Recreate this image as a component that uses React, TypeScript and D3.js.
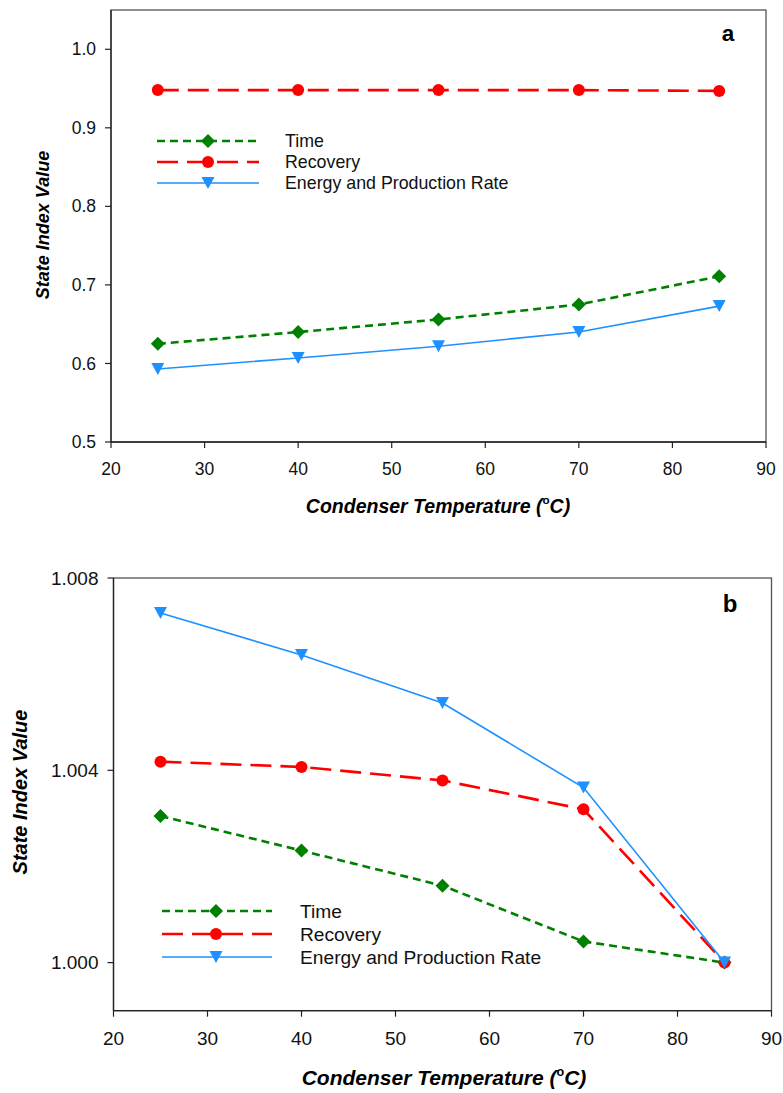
import React from "react";
import * as d3 from "d3";

const temps = [25, 40, 55, 70, 85];
const xTicks = [20, 30, 40, 50, 60, 70, 80, 90];

const timeA = [0.625, 0.64, 0.656, 0.675, 0.711];
const recoveryA = [0.948, 0.948, 0.948, 0.948, 0.947];
const energyA = [0.593, 0.607, 0.622, 0.64, 0.673];
const yTicksA = [0.5, 0.6, 0.7, 0.8, 0.9, 1.0];

const timeB = [1.00305, 1.00233, 1.0016, 1.00044, 1.0];
const recoveryB = [1.00418, 1.00407, 1.00379, 1.00319, 1.0];
const energyB = [1.00727, 1.0064, 1.0054, 1.00364, 1.0];
const yTicksB = [1.0, 1.004, 1.008];

const seriesNames = ["Time", "Recovery", "Energy and Production Rate"];
const FONT = "Arial, 'Liberation Sans', sans-serif";

type PanelCfg = {
  left: number; right: number; top: number; bottom: number;
  yDomain: [number, number]; yTicks: number[]; yFmt: (v: number) => string;
  series: number[][]; label: string; labelX: number; labelY: number;
  tickFont: number; legendFont: number; titleFont: number; yTitleFont: number;
  legend: { x0: number; x1: number; xm: number; xt: number; ys: number[] };
  yTitleX: number; yTitleY: number; xTitleX: number; xTitleY: number; xTickY: number;
};

const styles = [
  { color: "#008000", dash: "8,5", width: 2.6, marker: "diamond" },
  { color: "#ff0000", dash: "21,9", width: 2.6, marker: "circle" },
  { color: "#1e90ff", dash: "", width: 1.6, marker: "triangle" },
];

function Marker({ kind, x, y, color }: { kind: string; x: number; y: number; color: string }) {
  if (kind === "circle") return <circle cx={x} cy={y} r={6} fill={color} />;
  if (kind === "diamond") {
    const s = 7;
    return <path d={`M${x},${y - s}L${x + s},${y}L${x},${y + s}L${x - s},${y}Z`} fill={color} />;
  }
  const w = 6.5, h = 6;
  return <path d={`M${x - w},${y - h}L${x + w},${y - h}L${x},${y + h}Z`} fill={color} />;
}

function Panel({ c }: { c: PanelCfg }) {
  const x = d3.scaleLinear().domain([20, 90]).range([c.left, c.right]);
  const y = d3.scaleLinear().domain(c.yDomain).range([c.bottom, c.top]);
  const line = d3.line<number>().x((_, i) => x(temps[i])).y((v) => y(v));
  const sup = c.titleFont * 0.45;
  return (
    <g fontFamily={FONT}>
      <rect x={c.left} y={c.top} width={c.right - c.left} height={c.bottom - c.top} fill="none" stroke="#555" strokeWidth={1.3} />
      <line x1={c.left} x2={c.left} y1={c.top} y2={c.bottom} stroke="#222" strokeWidth={1.3} />
      <line x1={c.left} x2={c.right} y1={c.bottom} y2={c.bottom} stroke="#222" strokeWidth={1.3} />
      {c.yTicks.map((t) => (
        <g key={"y" + t}>
          <line x1={c.left - 6} x2={c.left} y1={y(t)} y2={y(t)} stroke="#222" strokeWidth={1.2} />
          <text x={c.left - 15} y={y(t)} dy="0.35em" textAnchor="end" fontSize={c.tickFont} fill="#111">{c.yFmt(t)}</text>
        </g>
      ))}
      {xTicks.map((t) => (
        <g key={"x" + t}>
          <line x1={x(t)} x2={x(t)} y1={c.bottom} y2={c.bottom + 6} stroke="#222" strokeWidth={1.2} />
          <text x={x(t)} y={c.xTickY} dy="0.35em" textAnchor="middle" fontSize={c.tickFont} fill="#111">{t}</text>
        </g>
      ))}
      {c.series.map((s, i) => (
        <path key={"l" + i} d={line(s) || ""} fill="none" stroke={styles[i].color} strokeWidth={styles[i].width} strokeDasharray={styles[i].dash} />
      ))}
      {c.series.map((s, i) =>
        s.map((v, j) => <Marker key={`m${i}-${j}`} kind={styles[i].marker} x={x(temps[j])} y={y(v)} color={styles[i].color} />)
      )}
      {seriesNames.map((n, i) => (
        <g key={"lg" + i}>
          <line x1={c.legend.x0} x2={c.legend.x1} y1={c.legend.ys[i]} y2={c.legend.ys[i]} stroke={styles[i].color} strokeWidth={styles[i].width} strokeDasharray={styles[i].dash} />
          <Marker kind={styles[i].marker} x={c.legend.xm} y={c.legend.ys[i]} color={styles[i].color} />
          <text x={c.legend.xt} y={c.legend.ys[i]} dy="0.35em" fontSize={c.legendFont} fill="#111">{n}</text>
        </g>
      ))}
      <text x={c.labelX} y={c.labelY} dy="0.35em" textAnchor="middle" fontSize={c.titleFont + 3} fontWeight="bold" fill="#000">{c.label}</text>
      <text transform={`translate(${c.yTitleX},${c.yTitleY}) rotate(-90)`} textAnchor="middle" dy="0.35em" fontSize={c.yTitleFont} fontWeight="bold" fontStyle="italic" fill="#000">State Index Value</text>
      <text x={c.xTitleX} y={c.xTitleY + c.titleFont * 0.35} textAnchor="middle" fontSize={c.titleFont} fontWeight="bold" fontStyle="italic" fill="#000">
        Condenser Temperature (<tspan dy={-sup} fontSize={c.titleFont * 0.6} fontStyle="normal">o</tspan><tspan dy={sup}>C)</tspan>
      </text>
    </g>
  );
}

const panelA: PanelCfg = {
  left: 111, right: 766, top: 10, bottom: 442,
  yDomain: [0.5, 1.05], yTicks: yTicksA, yFmt: (v) => v.toFixed(1),
  series: [timeA, recoveryA, energyA], label: "a", labelX: 728, labelY: 33,
  tickFont: 17.5, legendFont: 17.8, titleFont: 19.5, yTitleFont: 18,
  legend: { x0: 157, x1: 259, xm: 208, xt: 285, ys: [141, 162, 183] },
  yTitleX: 43, yTitleY: 225, xTitleX: 438, xTitleY: 506, xTickY: 469,
};

const panelB: PanelCfg = {
  left: 113.5, right: 771.5, top: 578, bottom: 1010.7,
  yDomain: [0.999, 1.008], yTicks: yTicksB, yFmt: (v) => v.toFixed(3),
  series: [timeB, recoveryB, energyB], label: "b", labelX: 730, labelY: 604,
  tickFont: 19, legendFont: 19.2, titleFont: 21, yTitleFont: 20,
  legend: { x0: 162, x1: 272, xm: 216, xt: 300, ys: [911, 934, 957] },
  yTitleX: 20, yTitleY: 792, xTitleX: 444, xTitleY: 1078, xTickY: 1038,
};

export default function App() {
  return (
    <svg width={783} height={1093} style={{ position: "absolute", left: 0, top: 0, background: "#fff" }}>
      <rect width={783} height={1093} fill="#fff" />
      <Panel c={panelA} />
      <Panel c={panelB} />
    </svg>
  );
}
